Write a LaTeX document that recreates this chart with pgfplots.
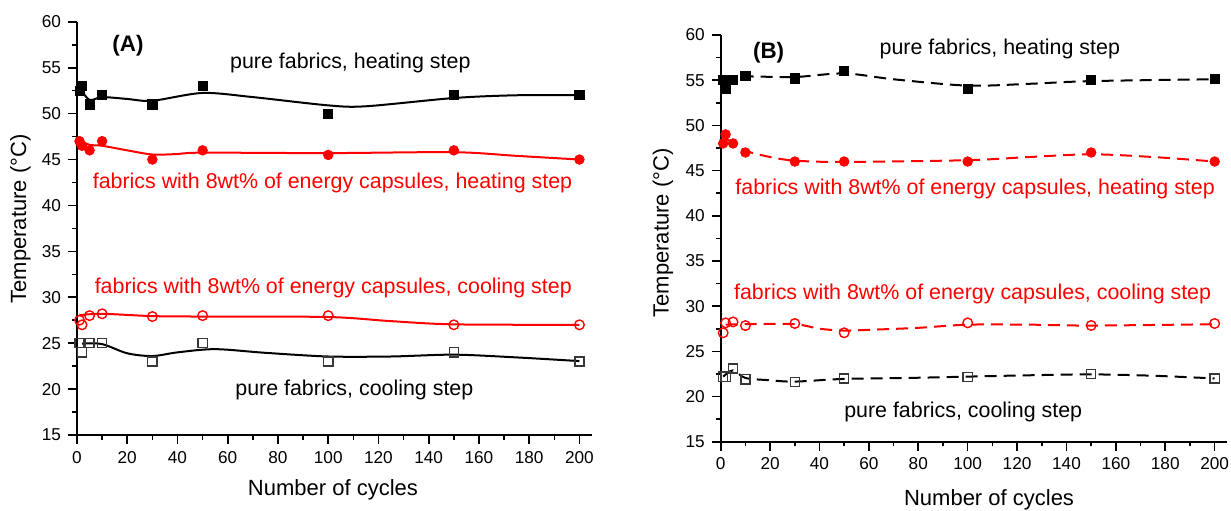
\documentclass[border=0pt]{standalone}
\usepackage{fontspec}
\setmainfont{Liberation Sans}
\usepackage{pgfplots}
\pgfplotsset{compat=1.18}
\definecolor{myred}{RGB}{255,0,0}
\definecolor{mygray}{RGB}{55,55,55}
\pgfplotsset{
 panel/.style={
  scale only axis,
  axis x line=bottom, axis y line=left,
  axis line style={-, line width=0.9pt},
  xmin=0, xmax=205, ymin=15, ymax=60,
  xtick={0,20,...,200}, ytick={15,20,...,60},
  minor x tick num=1, minor y tick num=1,
  tick align=outside,
  major tick length=4.5pt, minor tick length=2.3pt,
  tick style={black, line width=0.8pt},
  tick label style={font=\fontsize{8.6}{10}\selectfont},
  /pgf/number format/assume math mode=true,
  label style={font=\fontsize{11}{13}\selectfont},
  xlabel={Number of cycles}, ylabel={Temperature (°C)},
  clip=false,
 },
 fitline/.style={line width=1pt, smooth},
 dashline/.style={line width=1pt, smooth, dash pattern=on 6pt off 3.5pt},
 openc/.style={only marks, mark=o, mark size=2.4pt, myred, mark options={fill=white, line width=0.7pt, solid}},
 opens/.style={only marks, mark=square, mark size=2.3pt, mygray, mark options={fill=white, line width=0.7pt, solid}},
}
\tikzset{lab/.style={font=\fontsize{10.7}{12}\selectfont, inner sep=0pt}}
\begin{document}
\begin{tikzpicture}
\useasboundingbox (0,0) rectangle (615.5pt,255pt);
% ---------------- (A) ----------------
\begin{axis}[panel, at={(38.5pt,37.5pt)}, anchor=south west,
  width=257.5pt, height=206.6pt,
  xlabel style={at={(axis description cs:0.497,-0.133)}, anchor=center},
  ylabel style={at={(axis description cs:-0.11,0.523)}, anchor=center}]
\addplot[black, fitline] coordinates {(1,52.8)(5,51.5)(10,51.8)(20,51.6)(30,51.4)(50,52.25)(70,51.8)(100,50.9)(115,50.8)(150,51.7)(175,52)(200,52)};
\addplot[myred, fitline] coordinates {(1,47.1)(5,46.6)(10,46.5)(20,46)(30,45.55)(40,45.6)(50,45.75)(100,45.7)(150,45.8)(175,45.4)(200,45)};
\addplot[myred, fitline] coordinates {(1,28.05)(10,28.2)(30,27.95)(50,27.9)(100,27.85)(125,27.4)(150,27.05)(200,27)};
\addplot[black, fitline] coordinates {(2,24.95)(10,24.9)(20,23.9)(30,23.6)(40,24.0)(55,24.35)(75,23.95)(100,23.55)(125,23.55)(150,23.75)(175,23.45)(200,23.05)};
\addplot[only marks, mark=square*, mark size=2.3pt, black] coordinates {(1,52.5)(2,53)(5,51)(10,52)(30,51)(50,53)(100,50)(150,52)(200,52)};
\addplot[only marks, mark=*, mark size=2.4pt, myred] coordinates {(1,47)(2,46.5)(5,46)(10,47)(30,45)(50,46)(100,45.5)(150,46)(200,45)};
\addplot[openc] coordinates {(1,27.5)(2,27)(5,28)(10,28.2)(30,27.9)(50,28)(100,28)(150,27)(200,27)};
\addplot[opens] coordinates {(1,25)(2,24)(5,25)(10,25)(30,23)(50,25)(100,23)(150,24)(200,23)};
\node[lab, font=\fontsize{11.2}{13}\selectfont\bfseries] at (axis cs:20.3,57.4) {(A)};
\node[lab] at (axis cs:108.8,55.5) {pure fabrics, heating step};
\node[lab, text=myred] at (axis cs:101.7,42.45) {fabrics with 8wt\% of energy capsules, heating step};
\node[lab, text=myred] at (axis cs:102,31) {fabrics with 8wt\% of energy capsules, cooling step};
\node[lab] at (axis cs:110.4,19.95) {pure fabrics, cooling step};
\end{axis}
% ---------------- (B) ----------------
\begin{axis}[panel, at={(360.35pt,34.15pt)}, anchor=south west,
  width=253.15pt, height=203.35pt,
  xlabel style={at={(axis description cs:0.53,-0.143)}, anchor=center},
  ylabel style={at={(axis description cs:-0.114,0.513)}, anchor=center}]
\addplot[black, dashline] coordinates {(2,54.3)(5,55)(10,55.4)(30,55.35)(50,55.75)(70,55.1)(100,54.4)(125,54.6)(150,54.9)(200,55.1)};
\addplot[myred, dashline] coordinates {(2,48.5)(5,48.1)(10,47.2)(20,46.5)(30,46.1)(50,45.95)(100,46.15)(125,46.5)(150,46.8)(175,46.5)(200,46)};
\addplot[myred, dashline] coordinates {(2,27.95)(10,28)(30,28)(40,27.5)(50,27.3)(62,27.4)(80,27.6)(100,27.95)(125,27.95)(150,27.85)(200,28)};
\addplot[black, dashline] coordinates {(1,22.2)(5,22.9)(10,22.05)(20,21.8)(30,21.65)(50,21.95)(75,22.05)(100,22.2)(125,22.35)(150,22.45)(175,22.3)(200,22)};
\addplot[only marks, mark=square*, mark size=2.3pt, black] coordinates {(1,55)(2,54)(5,55)(10,55.5)(30,55.2)(50,56)(100,54)(150,55)(200,55.1)};
\addplot[only marks, mark=*, mark size=2.4pt, myred] coordinates {(1,48)(2,49)(5,48)(10,47)(30,46)(50,46)(100,46)(150,47)(200,46)};
\addplot[openc] coordinates {(1,27.05)(2,28.15)(5,28.25)(10,27.85)(30,28.08)(50,27.05)(100,28.15)(150,27.86)(200,28.08)};
\addplot[opens] coordinates {(1,22.2)(2,22.2)(5,23.1)(10,21.9)(30,21.6)(50,22)(100,22.15)(150,22.5)(200,22)};
\node[lab, font=\fontsize{11.2}{13}\selectfont\bfseries] at (axis cs:19.4,58.0) {(B)};
\node[lab] at (axis cs:113,58.5) {pure fabrics, heating step};
\node[lab, text=myred] at (axis cs:103,42.95) {fabrics with 8wt\% of energy capsules, heating step};
\node[lab, text=myred] at (axis cs:102,31.35) {fabrics with 8wt\% of energy capsules, cooling step};
\node[lab] at (axis cs:98.2,18.3) {pure fabrics, cooling step};
\end{axis}
\end{tikzpicture}
\end{document}
